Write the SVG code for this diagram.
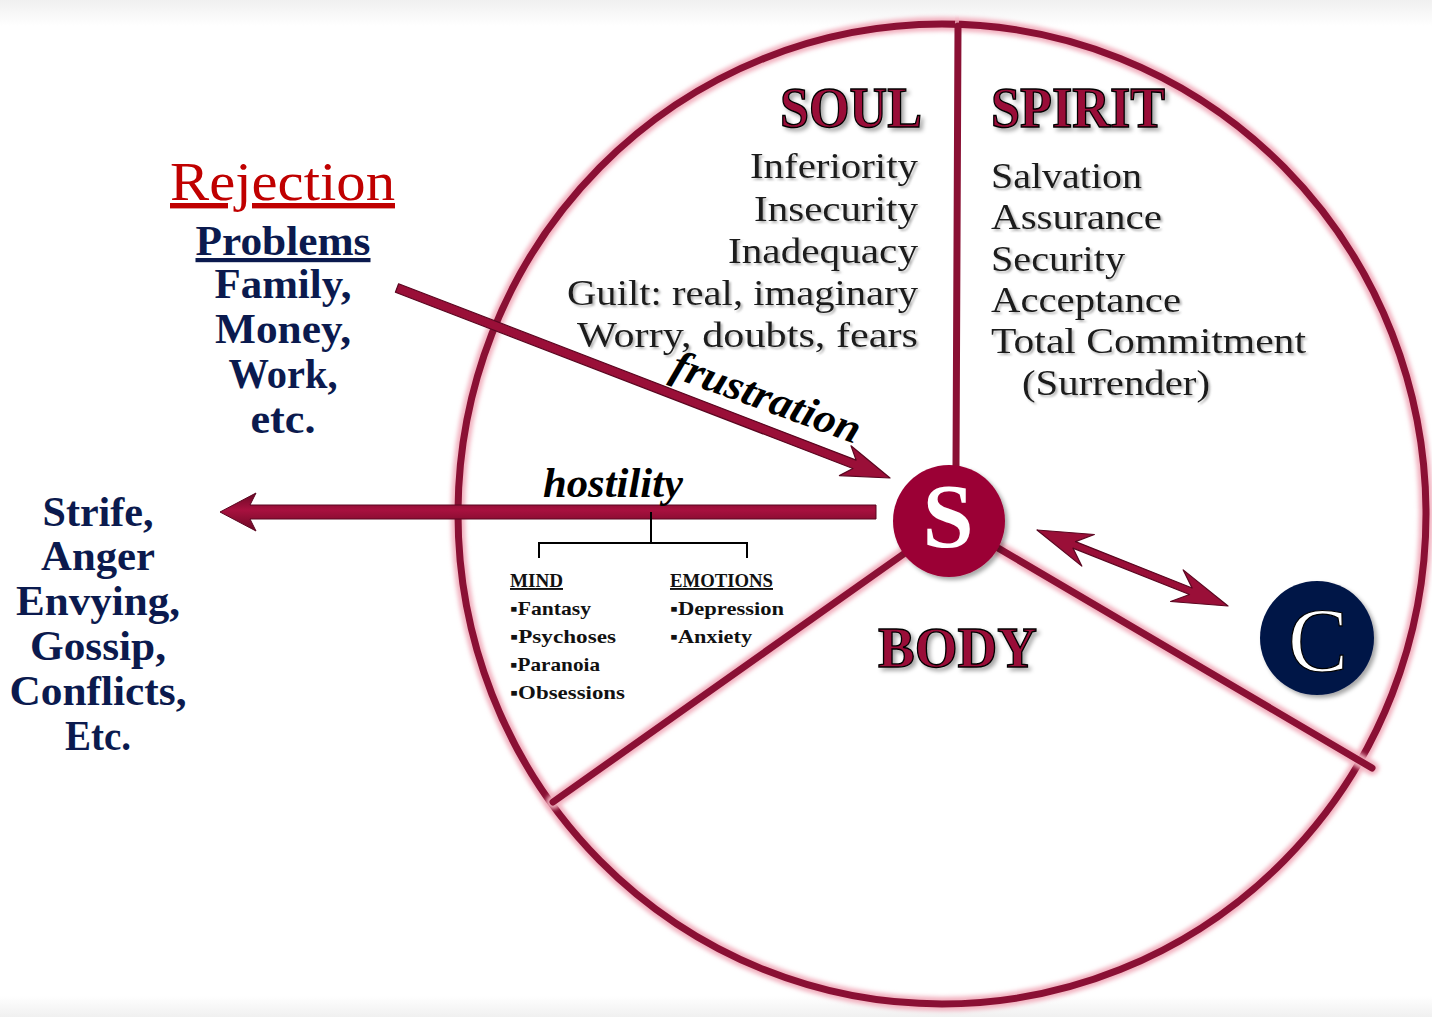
<svg xmlns="http://www.w3.org/2000/svg" width="1432" height="1017" viewBox="0 0 1432 1017">
<defs>
<style>
.halo{fill:none;stroke:#f2b1bf;stroke-width:14;stroke-linecap:round}
.ring{fill:none;stroke:#8a1034;stroke-width:7;stroke-linecap:round}
.ser{font-family:"Liberation Serif","DejaVu Serif",serif}
.list{font-size:36px;fill:#1a1a1a}
.navy{font-size:42px;font-weight:bold;fill:#0b1a4e;text-anchor:middle}
.title{font-size:58px;font-weight:bold;fill:#990b37;stroke:#000;stroke-width:1.4}
.small{font-size:19px;font-weight:bold;fill:#111}
.lbl{font-size:42px;font-weight:bold;font-style:italic;fill:#000}
.arrow{fill:#9a0f38;stroke:#5a0620;stroke-width:1.2;stroke-linejoin:round}
.tree{fill:none;stroke:#000;stroke-width:2}
</style>
<filter id="soft" x="-10%" y="-10%" width="120%" height="120%"><feGaussianBlur stdDeviation="2.2"/></filter>
<filter id="tsh" x="-5%" y="-20%" width="110%" height="150%"><feDropShadow dx="2" dy="2" stdDeviation="1.2" flood-color="#777" flood-opacity="0.55"/></filter>
<filter id="hsh" x="-10%" y="-20%" width="120%" height="150%"><feDropShadow dx="3" dy="3" stdDeviation="2" flood-color="#000" flood-opacity="0.35"/></filter>
<linearGradient id="topband" x1="0" y1="0" x2="0" y2="1"><stop offset="0" stop-color="#f0f0f0"/><stop offset="1" stop-color="#ffffff"/></linearGradient>
<linearGradient id="botband" x1="0" y1="0" x2="0" y2="1"><stop offset="0" stop-color="#ffffff"/><stop offset="1" stop-color="#f0f0f0"/></linearGradient>
<linearGradient id="shaftH" x1="0" y1="0" x2="0" y2="1"><stop offset="0" stop-color="#6a0824"/><stop offset="0.45" stop-color="#a8113f"/><stop offset="1" stop-color="#6a0824"/></linearGradient>
</defs>
<rect x="0" y="0" width="1432" height="1017" fill="#fff"/>
<rect x="0" y="0" width="1432" height="26" fill="url(#topband)"/>
<rect x="0" y="996" width="1432" height="21" fill="url(#botband)"/>

<g id="ring">
<ellipse class="halo" cx="942" cy="514" rx="484" ry="490" filter="url(#soft)"/>
<ellipse class="ring" cx="942" cy="514" rx="484" ry="490"/>
</g>

<g id="spokes">
<line class="halo" x1="958" y1="26" x2="956" y2="466" filter="url(#soft)"/>
<line class="halo" x1="905" y1="553" x2="553" y2="802" filter="url(#soft)"/>
<line class="halo" x1="998" y1="548" x2="1372" y2="768" filter="url(#soft)"/>
<line class="ring" x1="958" y1="26" x2="956" y2="466"/>
<line class="ring" x1="905" y1="553" x2="553" y2="802"/>
<line class="ring" x1="998" y1="548" x2="1372" y2="768"/>
</g>

<g id="connectors">
<path id="frustration-arrow" class="arrow" d="M398.6,283.8 L856.1,460.1 L851,445.8 L890,478 L839.4,475.6 L852.9,468.5 L395.4,292.2 Z"/>
<path id="hostility-arrow" fill="url(#shaftH)" stroke="#5a0620" stroke-width="1" d="M876,505 L250,505 L256,493 L220,512 L256,531 L250,519 L876,519 Z"/>
<path id="c-arrow" class="arrow" d="M1037,530 L1094.4,534.5 L1075.5,541.6 L1192.1,588 L1183.2,569.9 L1228,606 L1170.6,601.5 L1189.5,594.5 L1072.9,548.1 L1081.8,566.1 Z"/>
<path id="tree" class="tree" d="M651,512 V543 M539,558 V543 H747 V558"/>
</g>

<g id="node-s">
<circle cx="949" cy="521" r="56" fill="#9b0535" filter="url(#hsh)"/>
<text class="ser" x="948" y="547" text-anchor="middle" font-size="92" font-weight="bold" fill="#fff">S</text>
</g>

<g id="node-c">
<circle cx="1317" cy="638" r="57" fill="#001547" filter="url(#hsh)"/>
<text class="ser" x="1318" y="671" text-anchor="middle" font-size="90" fill="#fff" stroke="#000" stroke-width="1.2">C</text>
</g>

<g id="soul" class="ser">
<text class="title" x="922" y="127" text-anchor="end" textLength="142" lengthAdjust="spacingAndGlyphs" filter="url(#hsh)">SOUL</text>
<g class="list" text-anchor="end" filter="url(#tsh)">
<text x="918" y="178" textLength="168" lengthAdjust="spacingAndGlyphs">Inferiority</text>
<text x="918" y="221" textLength="164" lengthAdjust="spacingAndGlyphs">Insecurity</text>
<text x="918" y="263" textLength="190" lengthAdjust="spacingAndGlyphs">Inadequacy</text>
<text x="918" y="305" textLength="351" lengthAdjust="spacingAndGlyphs">Guilt: real, imaginary</text>
<text x="918" y="347" textLength="341" lengthAdjust="spacingAndGlyphs">Worry, doubts, fears</text>
</g>
</g>

<g id="spirit" class="ser">
<text class="title" x="991" y="127" textLength="174" lengthAdjust="spacingAndGlyphs" filter="url(#hsh)">SPIRIT</text>
<g class="list" filter="url(#tsh)">
<text x="991" y="188" textLength="151" lengthAdjust="spacingAndGlyphs">Salvation</text>
<text x="991" y="229" textLength="171" lengthAdjust="spacingAndGlyphs">Assurance</text>
<text x="991" y="271" textLength="134" lengthAdjust="spacingAndGlyphs">Security</text>
<text x="991" y="312" textLength="190" lengthAdjust="spacingAndGlyphs">Acceptance</text>
<text x="991" y="353" textLength="315" lengthAdjust="spacingAndGlyphs">Total Commitment</text>
<text x="1022" y="395" textLength="188" lengthAdjust="spacingAndGlyphs">(Surrender)</text>
</g>
</g>

<g id="body" class="ser">
<text class="title" x="878" y="667" textLength="159" lengthAdjust="spacingAndGlyphs" filter="url(#hsh)">BODY</text>
</g>

<g id="rejection" class="ser">
<text x="170" y="200" font-size="54" fill="#c00000" text-decoration="underline" textLength="225" lengthAdjust="spacingAndGlyphs">Rejection</text>
<text class="navy" x="283" y="255" text-decoration="underline" textLength="175" lengthAdjust="spacingAndGlyphs">Problems</text>
<text class="navy" x="283" y="298" textLength="137" lengthAdjust="spacingAndGlyphs">Family,</text>
<text class="navy" x="283" y="343" textLength="136" lengthAdjust="spacingAndGlyphs">Money,</text>
<text class="navy" x="283" y="388" textLength="109" lengthAdjust="spacingAndGlyphs">Work,</text>
<text class="navy" x="283" y="433" textLength="65" lengthAdjust="spacingAndGlyphs">etc.</text>
</g>

<g id="outcomes" class="ser">
<text class="navy" x="98" y="526" textLength="111" lengthAdjust="spacingAndGlyphs">Strife,</text>
<text class="navy" x="98" y="570" textLength="114" lengthAdjust="spacingAndGlyphs">Anger</text>
<text class="navy" x="98" y="615" textLength="164" lengthAdjust="spacingAndGlyphs">Envying,</text>
<text class="navy" x="98" y="660" textLength="136" lengthAdjust="spacingAndGlyphs">Gossip,</text>
<text class="navy" x="98" y="705" textLength="177" lengthAdjust="spacingAndGlyphs">Conflicts,</text>
<text class="navy" x="98" y="750" textLength="66" lengthAdjust="spacingAndGlyphs">Etc.</text>
</g>

<g id="labels" class="ser">
<text class="lbl" x="543" y="497" textLength="140" lengthAdjust="spacingAndGlyphs">hostility</text>
<text class="lbl" font-size="40" text-anchor="middle" transform="translate(762,410) rotate(20)" textLength="198" lengthAdjust="spacingAndGlyphs">frustration</text>
</g>

<g id="mind" class="ser small">
<text x="510" y="587" text-decoration="underline" textLength="53" lengthAdjust="spacingAndGlyphs">MIND</text>
<text x="510" y="615" textLength="81" lengthAdjust="spacingAndGlyphs">▪Fantasy</text>
<text x="510" y="643" textLength="106" lengthAdjust="spacingAndGlyphs">▪Psychoses</text>
<text x="510" y="671" textLength="90" lengthAdjust="spacingAndGlyphs">▪Paranoia</text>
<text x="510" y="699" textLength="115" lengthAdjust="spacingAndGlyphs">▪Obsessions</text>
</g>

<g id="emotions" class="ser small">
<text x="670" y="587" text-decoration="underline" textLength="103" lengthAdjust="spacingAndGlyphs">EMOTIONS</text>
<text x="670" y="615" textLength="114" lengthAdjust="spacingAndGlyphs">▪Depression</text>
<text x="670" y="643" textLength="82" lengthAdjust="spacingAndGlyphs">▪Anxiety</text>
</g>
</svg>
